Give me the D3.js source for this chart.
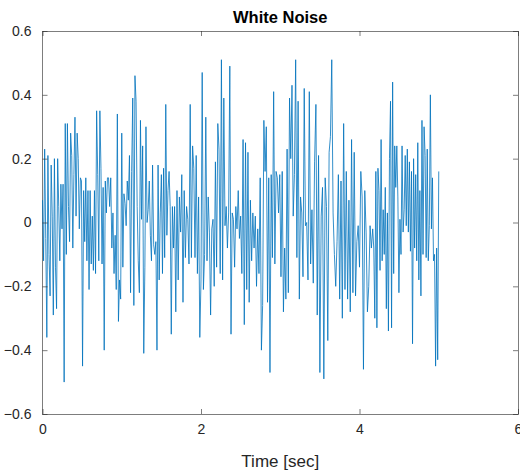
<!DOCTYPE html>
<html>
<head>
<meta charset="utf-8">
<script src="https://cdn.jsdelivr.net/npm/d3@7"></script>
<style>
  body { margin: 0; background: #fff; }
  text { font-family: "Liberation Sans", Arial, sans-serif; }
</style>
</head>
<body>
<svg id="chart" width="520" height="472"></svg>
<script>
// noise samples, 0 .. 5 sec, in six chunks
const seg1 = [0.07, -0.12, 0.23, -0.05, -0.36, 0.21, -0.1, -0.23, 0.18, 0.02, -0.29, 0.2, -0.14, -0.27, 0.2, 0.05, -0.12, 0.12, -0.02, 0.12,
  -0.5, 0.31, -0.1, 0.31, 0.05, -0.06, 0.28, 0.21, -0.08, 0.15, 0.33, 0.02, 0.28, 0.2, -0.02, 0.14, 0.13, -0.45, 0.1, -0.06,
  0.14, -0.12, 0.1, -0.21, 0.1, -0.13, 0.02, -0.15, 0.1, -0.16, 0.35, 0.15, -0.12, 0.35, 0.17, -0.13, 0.11, -0.4, 0.13, 0.03, 0.14];
const seg2 = [0.14, 0.05, 0.14, -0.08, 0.03, -0.16, -0.04, -0.21, 0.34, -0.31, -0.18, -0.24, 0.28, -0.14, 0.09, 0.06, -0.01, 0.13, 0.07, 0.21,
  -0.22, 0.16, 0.39, -0.26, 0.46, 0.38, 0.05, -0.12, -0.22, 0.32, 0.01, 0.24, -0.41, -0.14, 0.3, 0.0, 0.04, 0.13, -0.04, -0.12,
  0.18, -0.07, -0.1, -0.06, -0.4, 0.18, -0.18, 0.03, 0.15, -0.16, 0.17, -0.11, 0.37, -0.04, 0.1, 0.16, 0.05, -0.35, 0.05, -0.08];
const seg3 = [0.05, -0.28, 0.1, -0.18, 0.08, -0.03, 0.15, -0.25, 0.1, -0.11, 0.05, 0.01, -0.13, 0.37, -0.11, 0.24, 0.17, -0.11, 0.21, -0.16,
  0.08, -0.36, -0.18, 0.47, -0.21, -0.1, 0.33, -0.12, 0.08, -0.03, -0.29, -0.02, 0.01, -0.2, 0.19, -0.14, 0.31, 0.23, -0.16, 0.51,
  -0.18, 0.39, -0.01, 0.05, -0.08, 0.03, 0.49, -0.35, 0.03, 0.01, -0.14, 0.05, -0.02, 0.1, -0.05];
const seg4 = [0.02, -0.16, 0.26, -0.32, 0.25, -0.21, 0.22, -0.25, 0.07, -0.12, 0.03, -0.08, 0.02, -0.2, -0.02, -0.16, 0.14, -0.4, -0.26, 0.32,
  0.16, 0.3, -0.25, 0.14, -0.47, 0.15, -0.11, 0.41, -0.13, 0.16, 0.14, 0.03, 0.15, -0.17, 0.16, -0.28, -0.08, -0.24, 0.23, -0.22,
  0.39, 0.2, 0.43, 0.02, 0.15, 0.51, -0.11, 0.38, -0.24, 0.08, 0.03, -0.17, 0.42, -0.01];
const seg5 = [0.0, -0.18, 0.41, -0.13, 0.04, -0.19, 0.19, 0.37, -0.29, 0.21, -0.47, 0.02, 0.11, -0.49, 0.14, 0.05, -0.37, 0.22, 0.27, 0.51,
  0.03, -0.1, -0.2, -0.06, 0.15, -0.24, 0.13, -0.3, 0.31, -0.21, 0.16, -0.24, 0.07, -0.28, 0.26, -0.22, 0.22, -0.23, -0.06, -0.01,
  -0.14, 0.16, 0.08, -0.46, 0.1, -0.03, -0.28, -0.2, -0.01, -0.08];
const seg6 = [-0.02, -0.08, -0.3, 0.16, -0.33, 0.17, 0.1, -0.15, 0.26, -0.12, 0.04, -0.1, 0.11, -0.27, 0.03, -0.34, 0.2, 0.38, -0.33, 0.44,
  -0.16, 0.24, 0.11, 0.24, 0.08, -0.22, 0.01, -0.1, 0.24, -0.03, 0.04, 0.21, -0.01, 0.23, -0.03, 0.19, -0.09, 0.16, -0.38, 0.2,
  -0.08, 0.15, -0.12, 0.25, -0.18, 0.1, -0.23, 0.32, -0.1, 0.3, 0.21, -0.11, 0.23, -0.12, -0.01, 0.4, -0.02, 0.14, -0.12, -0.1,
  -0.45, -0.08, -0.43, 0.16];
const segStart = [0, 5 / 6, 10 / 6, 15 / 6, 20 / 6, 25 / 6]; // sec, each chunk covers 5/6 s
const segLen = 5 / 6;

const xTicks = [0, 2, 4, 6];
const yTicks = [-0.6, -0.4, -0.2, 0, 0.2, 0.4, 0.6];
const title = 'White Noise';
const xLabel = 'Time [sec]';

// build (t, v) points
const segs = [seg1, seg2, seg3, seg4, seg5, seg6];
const pts = [];
segs.forEach((s, k) => {
    const n = k === segs.length - 1 ? s.length - 1 : s.length;
    s.forEach((v, i) => pts.push({ t: segStart[k] + segLen * i / n, v: v }));
});

const margin = { left: 42.5, right: 2, top: 31, bottom: 58 };
const W = 520, H = 472;
const svg = d3.select('#chart');

const x = d3.scaleLinear().domain([0, 6]).range([margin.left, W - margin.right]);
const y = d3.scaleLinear().domain([-0.6, 0.6]).range([H - margin.bottom, margin.top]);

const axisCol = '#262626';

// box
svg.append('rect')
    .attr('x', x(0)).attr('y', y(0.6))
    .attr('width', x(6) - x(0)).attr('height', y(-0.6) - y(0.6))
    .attr('fill', 'none').attr('stroke', axisCol).attr('stroke-width', 0.6)
    .attr('shape-rendering', 'crispEdges');

// the noise trace
const line = d3.line().x(d => x(d.t)).y(d => y(d.v));
svg.append('path')
    .datum(pts)
    .attr('d', line)
    .attr('fill', 'none')
    .attr('stroke', '#0072BD')
    .attr('stroke-width', 0.8)
    .attr('stroke-linejoin', 'round');

// axes, ticks pointing in
const xAxis = d3.axisBottom(x).tickValues(xTicks).tickSizeInner(-5).tickSizeOuter(0).tickPadding(10).tickFormat(d3.format('d'));
const gx = svg.append('g').attr('transform', `translate(0,${y(-0.6)})`).call(xAxis);
const xTop = d3.axisTop(x).tickValues(xTicks).tickSizeInner(-5).tickSizeOuter(0).tickFormat('');
const gxt = svg.append('g').attr('transform', `translate(0,${y(0.6)})`).call(xTop);

const yAxis = d3.axisLeft(y).tickValues(yTicks).tickSizeInner(-5).tickSizeOuter(0).tickPadding(10)
    .tickFormat(d => d === 0 ? '0' : d3.format('.1f')(d));
const gy = svg.append('g').attr('transform', `translate(${x(0)},0)`).call(yAxis);
const yRight = d3.axisRight(y).tickValues(yTicks).tickSizeInner(-5).tickSizeOuter(0).tickFormat('');
const gyr = svg.append('g').attr('transform', `translate(${x(6)},0)`).call(yRight);

[gx, gxt, gy, gyr].forEach(g => {
    g.select('.domain').remove();
    g.selectAll('line').attr('stroke', axisCol).attr('stroke-width', 0.6);
    g.selectAll('text').attr('fill', axisCol).style('font-size', '14px')
        .style('font-family', '"Liberation Sans", Arial, sans-serif');
});
gy.selectAll('text').attr('dx', '-1');

svg.append('text')
    .attr('x', (x(0) + x(6)) / 2).attr('y', 23)
    .attr('text-anchor', 'middle')
    .style('font-size', '16.5px').style('font-weight', 'bold')
    .attr('fill', '#000')
    .text(title);

svg.append('text')
    .attr('x', (x(0) + x(6)) / 2).attr('y', 467)
    .attr('text-anchor', 'middle')
    .style('font-size', '17px')
    .attr('fill', axisCol)
    .text(xLabel);
</script>
</body>
</html>
